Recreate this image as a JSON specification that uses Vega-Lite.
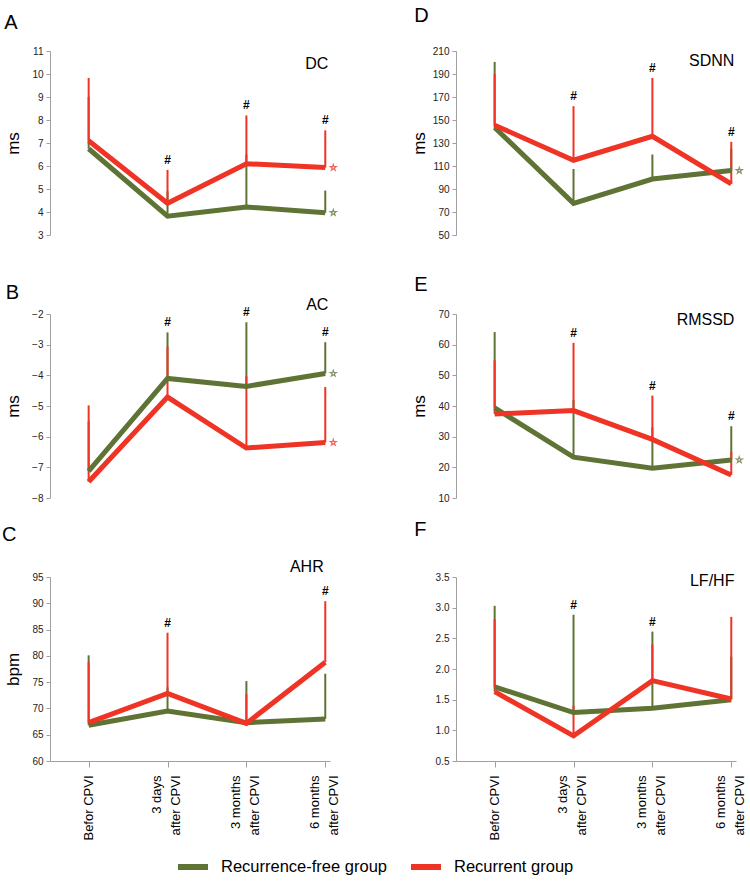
{
  "$schema": "https://vega.github.io/schema/vega-lite/v6.json",
  "padding": {"left": 1, "top": 5, "right": 5, "bottom": 3},
  "background": "white",
  "concat": [
    {
      "width": 280, "height": 184,
      "data": {"values": [
        {"group": "Recurrence-free group", "t": 0, "mean": 6.75, "top": 9.0, "star": false, "hash": false},
        {"group": "Recurrence-free group", "t": 1, "mean": 3.82, "top": 4.9, "star": false, "hash": true},
        {"group": "Recurrence-free group", "t": 2, "mean": 4.22, "top": 6.5, "star": false, "hash": true},
        {"group": "Recurrence-free group", "t": 3, "mean": 3.97, "top": 4.93, "star": true, "hash": true},
        {"group": "Recurrent group", "t": 0, "mean": 7.1, "top": 9.83, "star": false, "hash": false},
        {"group": "Recurrent group", "t": 1, "mean": 4.38, "top": 5.83, "star": false, "hash": true},
        {"group": "Recurrent group", "t": 2, "mean": 6.1, "top": 8.2, "star": false, "hash": true},
        {"group": "Recurrent group", "t": 3, "mean": 5.93, "top": 7.55, "star": true, "hash": true}
      ]},
      "encoding": {
        "x": {"field": "t", "type": "quantitative", "scale": {"domain": [-0.49, 3.06], "nice": false, "zero": false}, "axis": null},
        "y": {"field": "mean", "type": "quantitative", "scale": {"domain": [3, 11], "nice": false, "zero": false},
              "axis": {"title": "ms", "values": [3, 4, 5, 6, 7, 8, 9, 10, 11]}}
      },
      "layer": [
        {"mark": {"type": "rule", "strokeWidth": 2},
         "encoding": {"y2": {"field": "top"}, "color": {"field": "group", "type": "nominal", "legend": {"title": null}}}},
        {"mark": {"type": "line", "strokeWidth": 5},
         "encoding": {"color": {"field": "group", "type": "nominal", "legend": {"title": null}}}},
        {"transform": [{"filter": "datum.star"}],
         "mark": {"type": "point", "shape": "M0,-1L0.2245,-0.309L0.951,-0.309L0.363,0.118L0.588,0.809L0,0.382L-0.588,0.809L-0.363,0.118L-0.951,-0.309L-0.2245,-0.309Z", "size": 40, "filled": false, "strokeWidth": 1.2, "opacity": 0.75, "xOffset": 8},
         "encoding": {"color": {"field": "group", "type": "nominal", "legend": null}}},
        {"transform": [{"filter": "datum.hash"}, {"aggregate": [{"op": "max", "field": "top", "as": "top"}], "groupby": ["t"]}],
         "mark": {"type": "text", "text": "#", "fontSize": 12, "fontWeight": "bold", "baseline": "middle", "dy": -10},
         "encoding": {"y": {"field": "top", "type": "quantitative"}}},
        {"transform": [{"filter": "datum.t == 3 && datum.group == 'Recurrent group'"}],
         "mark": {"type": "text", "text": "DC", "fontSize": 16, "align": "right", "baseline": "middle", "invalid": "show"},
         "encoding": {"x": {"datum": 3.04}, "y": {"datum": 10.45}}},
        {"transform": [{"filter": "datum.t == 3 && datum.group == 'Recurrent group'"}],
         "mark": {"type": "text", "text": "A", "fontSize": 20, "align": "left", "baseline": "alphabetic", "invalid": "show"},
         "encoding": {"x": {"datum": -1.07}, "y": {"datum": 11.96}}}
      ]
    },
    {
      "width": 280, "height": 184,
      "data": {"values": [
        {"group": "Recurrence-free group", "t": 0, "mean": 143.5, "top": 200.5, "star": false, "hash": false},
        {"group": "Recurrence-free group", "t": 1, "mean": 77.5, "top": 107.4, "star": false, "hash": true},
        {"group": "Recurrence-free group", "t": 2, "mean": 98.7, "top": 120, "star": false, "hash": true},
        {"group": "Recurrence-free group", "t": 3, "mean": 106, "top": 125, "star": true, "hash": true},
        {"group": "Recurrent group", "t": 0, "mean": 145.5, "top": 190, "star": false, "hash": false},
        {"group": "Recurrent group", "t": 1, "mean": 115, "top": 162, "star": false, "hash": true},
        {"group": "Recurrent group", "t": 2, "mean": 135.8, "top": 186.5, "star": false, "hash": true},
        {"group": "Recurrent group", "t": 3, "mean": 94.4, "top": 131, "star": false, "hash": true}
      ]},
      "encoding": {
        "x": {"field": "t", "type": "quantitative", "scale": {"domain": [-0.49, 3.06], "nice": false, "zero": false}, "axis": null},
        "y": {"field": "mean", "type": "quantitative", "scale": {"domain": [50, 210], "nice": false, "zero": false},
              "axis": {"title": "ms", "values": [50, 70, 90, 110, 130, 150, 170, 190, 210]}}
      },
      "layer": [
        {"mark": {"type": "rule", "strokeWidth": 2},
         "encoding": {"y2": {"field": "top"}, "color": {"field": "group", "type": "nominal", "legend": {"title": null}}}},
        {"mark": {"type": "line", "strokeWidth": 5},
         "encoding": {"color": {"field": "group", "type": "nominal", "legend": {"title": null}}}},
        {"transform": [{"filter": "datum.star"}],
         "mark": {"type": "point", "shape": "M0,-1L0.2245,-0.309L0.951,-0.309L0.363,0.118L0.588,0.809L0,0.382L-0.588,0.809L-0.363,0.118L-0.951,-0.309L-0.2245,-0.309Z", "size": 40, "filled": false, "strokeWidth": 1.2, "opacity": 0.75, "xOffset": 8},
         "encoding": {"color": {"field": "group", "type": "nominal", "legend": null}}},
        {"transform": [{"filter": "datum.hash"}, {"aggregate": [{"op": "max", "field": "top", "as": "top"}], "groupby": ["t"]}],
         "mark": {"type": "text", "text": "#", "fontSize": 12, "fontWeight": "bold", "baseline": "middle", "dy": -10},
         "encoding": {"y": {"field": "top", "type": "quantitative"}}},
        {"transform": [{"filter": "datum.t == 3 && datum.group == 'Recurrent group'"}],
         "mark": {"type": "text", "text": "SDNN", "fontSize": 16, "align": "right", "baseline": "middle", "invalid": "show"},
         "encoding": {"x": {"datum": 3.04}, "y": {"datum": 201.5}}},
        {"transform": [{"filter": "datum.t == 3 && datum.group == 'Recurrent group'"}],
         "mark": {"type": "text", "text": "D", "fontSize": 20, "align": "left", "baseline": "alphabetic", "invalid": "show"},
         "encoding": {"x": {"datum": -1.02}, "y": {"datum": 235.5}}}
      ]
    },
    {
      "width": 280, "height": 184,
      "data": {"values": [
        {"group": "Recurrence-free group", "t": 0, "mean": -7.12, "top": -5.5, "star": false, "hash": false},
        {"group": "Recurrence-free group", "t": 1, "mean": -4.1, "top": -2.6, "star": false, "hash": true},
        {"group": "Recurrence-free group", "t": 2, "mean": -4.36, "top": -2.27, "star": false, "hash": true},
        {"group": "Recurrence-free group", "t": 3, "mean": -3.94, "top": -2.92, "star": true, "hash": true},
        {"group": "Recurrent group", "t": 0, "mean": -7.47, "top": -4.98, "star": false, "hash": false},
        {"group": "Recurrent group", "t": 1, "mean": -4.71, "top": -3.06, "star": false, "hash": true},
        {"group": "Recurrent group", "t": 2, "mean": -6.37, "top": -4.03, "star": false, "hash": true},
        {"group": "Recurrent group", "t": 3, "mean": -6.19, "top": -4.38, "star": true, "hash": true}
      ]},
      "encoding": {
        "x": {"field": "t", "type": "quantitative", "scale": {"domain": [-0.49, 3.06], "nice": false, "zero": false}, "axis": null},
        "y": {"field": "mean", "type": "quantitative", "scale": {"domain": [-8, -2], "nice": false, "zero": false},
              "axis": {"title": "ms", "values": [-8, -7, -6, -5, -4, -3, -2], "format": "d"}}
      },
      "layer": [
        {"mark": {"type": "rule", "strokeWidth": 2},
         "encoding": {"y2": {"field": "top"}, "color": {"field": "group", "type": "nominal", "legend": {"title": null}}}},
        {"mark": {"type": "line", "strokeWidth": 5},
         "encoding": {"color": {"field": "group", "type": "nominal", "legend": {"title": null}}}},
        {"transform": [{"filter": "datum.star"}],
         "mark": {"type": "point", "shape": "M0,-1L0.2245,-0.309L0.951,-0.309L0.363,0.118L0.588,0.809L0,0.382L-0.588,0.809L-0.363,0.118L-0.951,-0.309L-0.2245,-0.309Z", "size": 40, "filled": false, "strokeWidth": 1.2, "opacity": 0.75, "xOffset": 8},
         "encoding": {"color": {"field": "group", "type": "nominal", "legend": null}}},
        {"transform": [{"filter": "datum.hash"}, {"aggregate": [{"op": "max", "field": "top", "as": "top"}], "groupby": ["t"]}],
         "mark": {"type": "text", "text": "#", "fontSize": 12, "fontWeight": "bold", "baseline": "middle", "dy": -10},
         "encoding": {"y": {"field": "top", "type": "quantitative"}}},
        {"transform": [{"filter": "datum.t == 3 && datum.group == 'Recurrent group'"}],
         "mark": {"type": "text", "text": "AC", "fontSize": 16, "align": "right", "baseline": "middle", "invalid": "show"},
         "encoding": {"x": {"datum": 3.04}, "y": {"datum": -1.7}}},
        {"transform": [{"filter": "datum.t == 3 && datum.group == 'Recurrent group'"}],
         "mark": {"type": "text", "text": "B", "fontSize": 20, "align": "left", "baseline": "alphabetic", "invalid": "show"},
         "encoding": {"x": {"datum": -1.05}, "y": {"datum": -1.51}}}
      ]
    },
    {
      "width": 280, "height": 184,
      "data": {"values": [
        {"group": "Recurrence-free group", "t": 0, "mean": 39.4, "top": 64.1, "star": false, "hash": false},
        {"group": "Recurrence-free group", "t": 1, "mean": 23.3, "top": 42, "star": false, "hash": true},
        {"group": "Recurrence-free group", "t": 2, "mean": 19.7, "top": 33, "star": false, "hash": true},
        {"group": "Recurrence-free group", "t": 3, "mean": 22.4, "top": 33.4, "star": true, "hash": true},
        {"group": "Recurrent group", "t": 0, "mean": 37.4, "top": 54.9, "star": false, "hash": false},
        {"group": "Recurrent group", "t": 1, "mean": 38.5, "top": 60.6, "star": false, "hash": true},
        {"group": "Recurrent group", "t": 2, "mean": 29.1, "top": 43.4, "star": false, "hash": true},
        {"group": "Recurrent group", "t": 3, "mean": 17.5, "top": 25.1, "star": false, "hash": true}
      ]},
      "encoding": {
        "x": {"field": "t", "type": "quantitative", "scale": {"domain": [-0.49, 3.06], "nice": false, "zero": false}, "axis": null},
        "y": {"field": "mean", "type": "quantitative", "scale": {"domain": [10, 70], "nice": false, "zero": false},
              "axis": {"title": "ms", "values": [10, 20, 30, 40, 50, 60, 70]}}
      },
      "layer": [
        {"mark": {"type": "rule", "strokeWidth": 2},
         "encoding": {"y2": {"field": "top"}, "color": {"field": "group", "type": "nominal", "legend": {"title": null}}}},
        {"mark": {"type": "line", "strokeWidth": 5},
         "encoding": {"color": {"field": "group", "type": "nominal", "legend": {"title": null}}}},
        {"transform": [{"filter": "datum.star"}],
         "mark": {"type": "point", "shape": "M0,-1L0.2245,-0.309L0.951,-0.309L0.363,0.118L0.588,0.809L0,0.382L-0.588,0.809L-0.363,0.118L-0.951,-0.309L-0.2245,-0.309Z", "size": 40, "filled": false, "strokeWidth": 1.2, "opacity": 0.75, "xOffset": 8},
         "encoding": {"color": {"field": "group", "type": "nominal", "legend": null}}},
        {"transform": [{"filter": "datum.hash"}, {"aggregate": [{"op": "max", "field": "top", "as": "top"}], "groupby": ["t"]}],
         "mark": {"type": "text", "text": "#", "fontSize": 12, "fontWeight": "bold", "baseline": "middle", "dy": -10},
         "encoding": {"y": {"field": "top", "type": "quantitative"}}},
        {"transform": [{"filter": "datum.t == 3 && datum.group == 'Recurrent group'"}],
         "mark": {"type": "text", "text": "RMSSD", "fontSize": 16, "align": "right", "baseline": "middle", "invalid": "show"},
         "encoding": {"x": {"datum": 3.04}, "y": {"datum": 67.9}}},
        {"transform": [{"filter": "datum.t == 3 && datum.group == 'Recurrent group'"}],
         "mark": {"type": "text", "text": "E", "fontSize": 20, "align": "left", "baseline": "alphabetic", "invalid": "show"},
         "encoding": {"x": {"datum": -1.02}, "y": {"datum": 77.5}}}
      ]
    },
    {
      "width": 280, "height": 184,
      "data": {"values": [
        {"group": "Recurrence-free group", "t": 0, "mean": 66.8, "top": 80.1, "star": false, "hash": false},
        {"group": "Recurrence-free group", "t": 1, "mean": 69.5, "top": 74, "star": false, "hash": true},
        {"group": "Recurrence-free group", "t": 2, "mean": 67.3, "top": 75.2, "star": false, "hash": false},
        {"group": "Recurrence-free group", "t": 3, "mean": 68.0, "top": 76.6, "star": false, "hash": true},
        {"group": "Recurrent group", "t": 0, "mean": 67.3, "top": 78.8, "star": false, "hash": false},
        {"group": "Recurrent group", "t": 1, "mean": 72.85, "top": 84.4, "star": false, "hash": true},
        {"group": "Recurrent group", "t": 2, "mean": 67.15, "top": 72.7, "star": false, "hash": false},
        {"group": "Recurrent group", "t": 3, "mean": 78.8, "top": 90.4, "star": false, "hash": true}
      ]},
      "encoding": {
        "x": {"field": "t", "type": "quantitative", "scale": {"domain": [-0.49, 3.06], "nice": false, "zero": false},
              "axis": {"title": null, "values": [0, 1, 2, 3], "labelOffset": {"condition": {"test": "datum.value == 0", "value": 0}, "value": -11},
                       "labelExpr": "datum.value == 0 ? 'Befor CPVI' : datum.value == 1 ? ['3 days', 'after CPVI'] : datum.value == 2 ? ['3 months', 'after CPVI'] : ['6 months', 'after CPVI']"}},
        "y": {"field": "mean", "type": "quantitative", "scale": {"domain": [60, 95], "nice": false, "zero": false},
              "axis": {"title": "bpm", "values": [60, 65, 70, 75, 80, 85, 90, 95]}}
      },
      "layer": [
        {"mark": {"type": "rule", "strokeWidth": 2},
         "encoding": {"y2": {"field": "top"}, "color": {"field": "group", "type": "nominal", "legend": {"title": null}}}},
        {"mark": {"type": "line", "strokeWidth": 5},
         "encoding": {"color": {"field": "group", "type": "nominal", "legend": {"title": null}}}},
        {"transform": [{"filter": "datum.hash"}, {"aggregate": [{"op": "max", "field": "top", "as": "top"}], "groupby": ["t"]}],
         "mark": {"type": "text", "text": "#", "fontSize": 12, "fontWeight": "bold", "baseline": "middle", "dy": -10},
         "encoding": {"y": {"field": "top", "type": "quantitative"}}},
        {"transform": [{"filter": "datum.t == 3 && datum.group == 'Recurrent group'"}],
         "mark": {"type": "text", "text": "AHR", "fontSize": 16, "align": "right", "baseline": "middle", "invalid": "show"},
         "encoding": {"x": {"datum": 2.98}, "y": {"datum": 96.9}}},
        {"transform": [{"filter": "datum.t == 3 && datum.group == 'Recurrent group'"}],
         "mark": {"type": "text", "text": "C", "fontSize": 20, "align": "left", "baseline": "alphabetic", "invalid": "show"},
         "encoding": {"x": {"datum": -1.1}, "y": {"datum": 101.85}}}
      ]
    },
    {
      "width": 280, "height": 184,
      "data": {"values": [
        {"group": "Recurrence-free group", "t": 0, "mean": 1.71, "top": 3.03, "star": false, "hash": false},
        {"group": "Recurrence-free group", "t": 1, "mean": 1.29, "top": 2.885, "star": false, "hash": true},
        {"group": "Recurrence-free group", "t": 2, "mean": 1.36, "top": 2.61, "star": false, "hash": true},
        {"group": "Recurrence-free group", "t": 3, "mean": 1.5, "top": 2.2, "star": false, "hash": false},
        {"group": "Recurrent group", "t": 0, "mean": 1.63, "top": 2.81, "star": false, "hash": false},
        {"group": "Recurrent group", "t": 1, "mean": 0.91, "top": 1.4, "star": false, "hash": true},
        {"group": "Recurrent group", "t": 2, "mean": 1.81, "top": 2.4, "star": false, "hash": true},
        {"group": "Recurrent group", "t": 3, "mean": 1.51, "top": 2.85, "star": false, "hash": false}
      ]},
      "encoding": {
        "x": {"field": "t", "type": "quantitative", "scale": {"domain": [-0.49, 3.06], "nice": false, "zero": false},
              "axis": {"title": null, "values": [0, 1, 2, 3], "labelOffset": {"condition": {"test": "datum.value == 0", "value": 0}, "value": -11},
                       "labelExpr": "datum.value == 0 ? 'Befor CPVI' : datum.value == 1 ? ['3 days', 'after CPVI'] : datum.value == 2 ? ['3 months', 'after CPVI'] : ['6 months', 'after CPVI']"}},
        "y": {"field": "mean", "type": "quantitative", "scale": {"domain": [0.5, 3.5], "nice": false, "zero": false},
              "axis": {"title": null, "values": [0.5, 1, 1.5, 2, 2.5, 3, 3.5], "format": ".1f"}}
      },
      "layer": [
        {"mark": {"type": "rule", "strokeWidth": 2},
         "encoding": {"y2": {"field": "top"}, "color": {"field": "group", "type": "nominal", "legend": {"title": null}}}},
        {"mark": {"type": "line", "strokeWidth": 5},
         "encoding": {"color": {"field": "group", "type": "nominal", "legend": {"title": null}}}},
        {"transform": [{"filter": "datum.hash"}, {"aggregate": [{"op": "max", "field": "top", "as": "top"}], "groupby": ["t"]}],
         "mark": {"type": "text", "text": "#", "fontSize": 12, "fontWeight": "bold", "baseline": "middle", "dy": -10},
         "encoding": {"y": {"field": "top", "type": "quantitative"}}},
        {"transform": [{"filter": "datum.t == 3 && datum.group == 'Recurrent group'"}],
         "mark": {"type": "text", "text": "LF/HF", "fontSize": 16, "align": "right", "baseline": "middle", "invalid": "show"},
         "encoding": {"x": {"datum": 3.04}, "y": {"datum": 3.43}}},
        {"transform": [{"filter": "datum.t == 3 && datum.group == 'Recurrent group'"}],
         "mark": {"type": "text", "text": "F", "fontSize": 20, "align": "left", "baseline": "alphabetic", "invalid": "show"},
         "encoding": {"x": {"datum": -1.02}, "y": {"datum": 4.17}}}
      ]
    }
  ],
  "columns": 2,
  "bounds": "flush",
  "spacing": {"row": 79, "column": 126},
  "config": {
    "font": "Liberation Sans",
    "view": {"stroke": null},
    "range": {"category": ["#5F7334", "#EF3325"]},
    "text": {"font": "Liberation Sans", "color": "#000"},
    "axis": {"grid": false, "domainColor": "#a0a0a0", "tickColor": "#a0a0a0", "labelFont": "Liberation Sans", "titleFont": "Liberation Sans", "labelColor": "#222", "titleColor": "#000", "titleFontWeight": "normal"},
    "axisY": {"labelFontSize": 10, "tickSize": 4, "labelPadding": 3, "titleFontSize": 17, "minExtent": 22, "maxExtent": 22, "titlePadding": 6},
    "axisX": {"labelFontSize": 13, "labelAngle": 270, "labelLineHeight": 19, "tickSize": 6, "labelPadding": 8, "labelColor": "#000"},
    "legend": {"orient": "bottom", "direction": "horizontal", "symbolType": "stroke", "symbolStrokeWidth": 6, "symbolSize": 900, "labelFontSize": 16.5, "labelFont": "Liberation Sans", "labelColor": "#000", "labelLimit": 400, "columnPadding": 12, "labelOffset": 10, "offset": 8, "layout": {"anchor": "middle", "offset": 8}}
  }
}
